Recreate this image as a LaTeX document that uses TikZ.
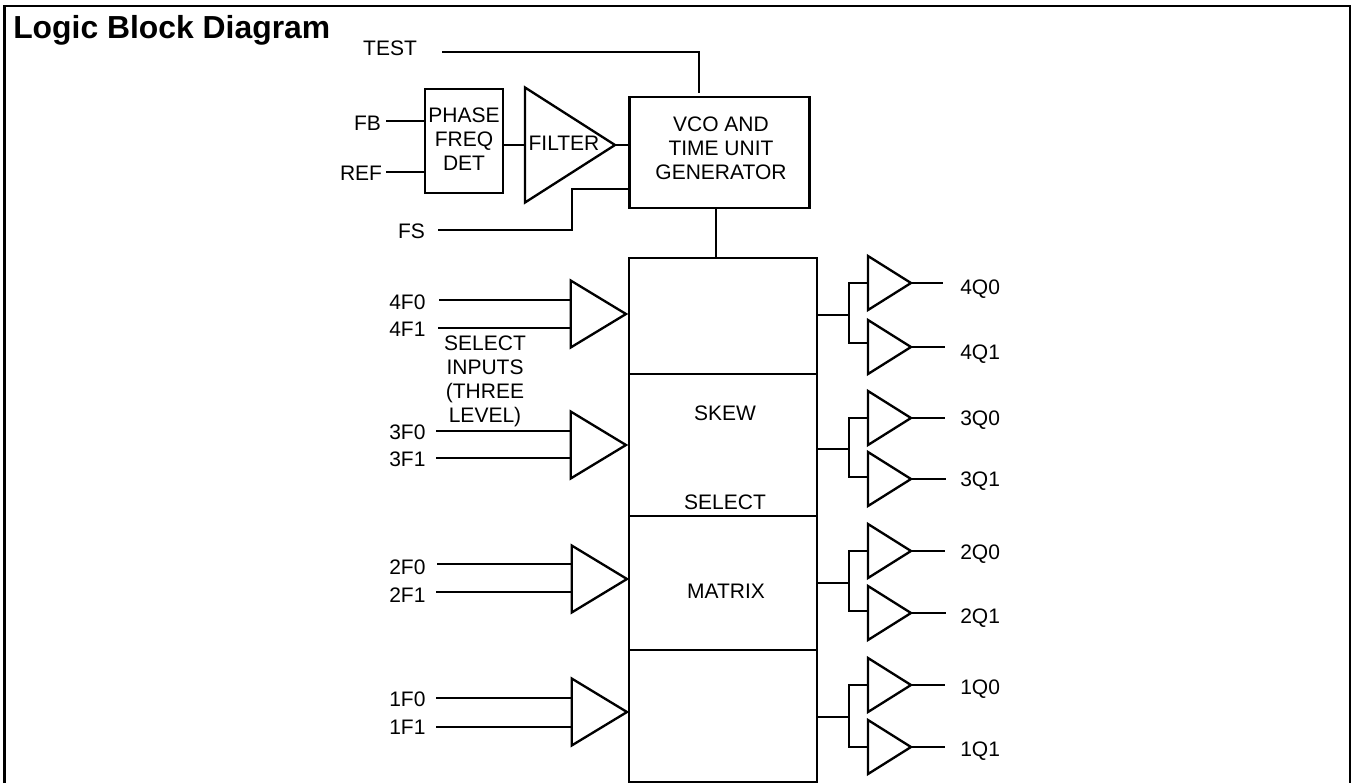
\documentclass[tikz,border=0pt]{standalone}
\usepackage{fontspec}
\setmainfont{Liberation Sans}
\usetikzlibrary{shapes.geometric}
\tikzset{
lbl/.style={inner sep=0pt,align=center,font=\fontsize{15.75}{18}\selectfont},
wire/.style={line width=2.1pt},
box/.style={draw,line width=2.1pt,rectangle,inner sep=0pt,outer sep=0pt},
buf/.style={draw,line width=1.75pt,isosceles triangle,isosceles triangle stretches,inner sep=0pt,outer sep=0pt,anchor=apex,minimum height=32.25pt,minimum width=40.5pt},
bufin/.style={buf,minimum height=41.5pt,minimum width=50.25pt}
}
\begin{document}
\begin{tikzpicture}[x=0.75pt,y=-0.75pt]
\useasboundingbox (0,0) rectangle (1353,783);
\draw[line width=2.1pt] (4.5,783)--(4.5,6)--(1350,6)--(1350,783);
\node[anchor=west,inner sep=0pt,font=\fontsize{23.9}{26}\selectfont\bfseries] (title) at (13,30) {Logic Block Diagram};

% pll at the top
\path
(719.5,152.5) node[box,minimum width=135pt,minimum height=83.25pt] (vco) {}
(721,148)     node[lbl] (vcotxt) {VCO AND\\TIME UNIT\\GENERATOR}
(464,141)     node[box,minimum width=58.5pt,minimum height=78pt] (pfd) {}
(464,139)     node[lbl] (pfdtxt) {PHASE\\FREQ\\DET}
(615,145)     node[buf,minimum height=67.5pt,minimum width=86.25pt] (filter) {}
(564,143)     node[lbl] (filtertxt) {FILTER}
(390,48)      node[lbl] (test) {TEST}
(367.5,123)   node[lbl] (fb) {FB}
(361,173)     node[lbl] (ref) {REF}
(411.5,231)   node[lbl] (fs) {FS};
\coordinate (testin) at (442,52);
\coordinate (testup) at (699,93);
\coordinate (fbin) at (386,121);
\coordinate (refin) at (386,172);
\coordinate (fsin) at (438,230);
\coordinate (fsup) at (572,189);
\coordinate (vcoout) at (716,208);

% skew select matrix, one box per bank
\path
(723,316) node[box,minimum width=141pt,minimum height=87pt] (s4) {}
(723,445) node[box,minimum width=141pt,minimum height=106.5pt] (s3) {}
(723,583) node[box,minimum width=141pt,minimum height=100.5pt] (s2) {}
(723,716) node[box,minimum width=141pt,minimum height=99pt] (s1) {}
(725,413) node[lbl] (skew) {SKEW}
(725,502) node[lbl] (select) {SELECT}
(726,591) node[lbl] (matrix) {MATRIX}
(485,381) node[lbl] (selin) {SELECT\\INPUTS\\(THREE\\LEVEL)};

% select input buffers
\path
(626,314) node[bufin] (b4) {}
(626,445) node[bufin] (b3) {}
(627,579) node[bufin] (b2) {}
(627,712) node[bufin] (b1) {}
(389,302) node[lbl,anchor=west] (l4f0) {4F0}
(389,329) node[lbl,anchor=west] (l4f1) {4F1}
(389,432) node[lbl,anchor=west] (l3f0) {3F0}
(389,459) node[lbl,anchor=west] (l3f1) {3F1}
(389,567) node[lbl,anchor=west] (l2f0) {2F0}
(389,595) node[lbl,anchor=west] (l2f1) {2F1}
(389,699) node[lbl,anchor=west] (l1f0) {1F0}
(389,727) node[lbl,anchor=west] (l1f1) {1F1};
\coordinate (i4f0) at (439,300);
\coordinate (i4f1) at (438,328);
\coordinate (i3f0) at (436,431);
\coordinate (i3f1) at (436,458);
\coordinate (i2f0) at (437,564);
\coordinate (i2f1) at (436,592);
\coordinate (i1f0) at (436,698);
\coordinate (i1f1) at (436,727);

% output buffers
\path
(911,283) node[buf] (q40) {}
(911,347) node[buf] (q41) {}
(911,418) node[buf] (q30) {}
(911,479) node[buf] (q31) {}
(911,551) node[buf] (q20) {}
(911,613) node[buf] (q21) {}
(911,685) node[buf] (q10) {}
(911,747) node[buf] (q11) {}
(960,289) node[lbl,anchor=west] (l4q0) {4Q0}
(960,354) node[lbl,anchor=west] (l4q1) {4Q1}
(960,420) node[lbl,anchor=west] (l3q0) {3Q0}
(960,481) node[lbl,anchor=west] (l3q1) {3Q1}
(960,554) node[lbl,anchor=west] (l2q0) {2Q0}
(960,618) node[lbl,anchor=west] (l2q1) {2Q1}
(960,689) node[lbl,anchor=west] (l1q0) {1Q0}
(960,751) node[lbl,anchor=west] (l1q1) {1Q1};
\coordinate (j4) at (849,315);
\coordinate (j3) at (849,449);
\coordinate (j2) at (849,583);
\coordinate (j1) at (849,717);

\draw[wire] (testin)-|(testup);
\draw[wire] (fbin)--(fbin-|pfd.west);
\draw[wire] (refin)--(refin-|pfd.west);
\draw[wire] (pfd.east|-filter.lower side)--(filter.lower side);
\draw[wire] (filter.apex)--(filter.apex-|vco.west);
\draw[wire] (fsin)-|(fsup)--(fsup-|vco.west);
\draw[wire] (vcoout)--(vcoout|-s4.north);

\draw[wire] (i4f0)--(i4f0-|b4.lower side);
\draw[wire] (i4f1)--(i4f1-|b4.lower side);
\draw[wire] (i3f0)--(i3f0-|b3.lower side);
\draw[wire] (i3f1)--(i3f1-|b3.lower side);
\draw[wire] (i2f0)--(i2f0-|b2.lower side);
\draw[wire] (i2f1)--(i2f1-|b2.lower side);
\draw[wire] (i1f0)--(i1f0-|b1.lower side);
\draw[wire] (i1f1)--(i1f1-|b1.lower side);

\draw[wire] (s4.east|-j4)--(j4);
\draw[wire] (s3.east|-j3)--(j3);
\draw[wire] (s2.east|-j2)--(j2);
\draw[wire] (s1.east|-j1)--(j1);
\draw[wire] (q40.lower side)-|(j4)|-([yshift=3pt]q41.lower side);
\draw[wire] (q30.lower side)-|(j3)|-([yshift=1.5pt]q31.lower side);
\draw[wire] (q20.lower side)-|(j2)|-([yshift=1.5pt]q21.lower side);
\draw[wire] (q10.lower side)-|(j1)|-(q11.lower side);

\draw[wire] (q40.apex)--+(32,0);
\draw[wire] (q41.apex)--+(34,0);
\draw[wire] (q30.apex)--+(34,0);
\draw[wire] (q31.apex)--+(35,0);
\draw[wire] (q20.apex)--+(34,0);
\draw[wire] (q21.apex)--+(35,0);
\draw[wire] (q10.apex)--+(34,0);
\draw[wire] (q11.apex)--+(34,0);
\end{tikzpicture}
\end{document}
